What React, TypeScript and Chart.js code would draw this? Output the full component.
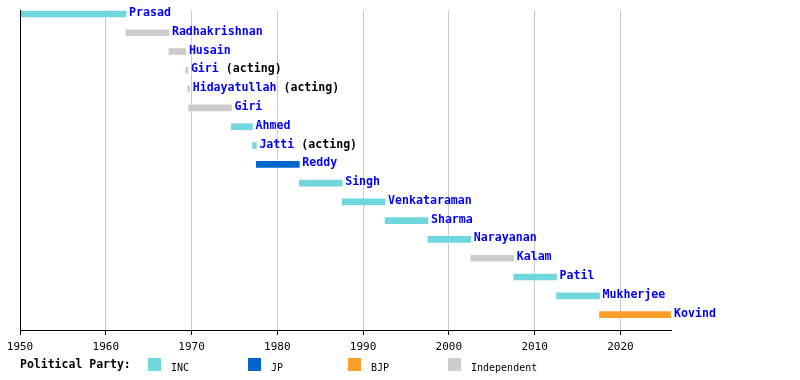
import React, { useEffect, useRef } from "react";
import { Chart, registerables } from "chart.js";

Chart.register(...registerables);

const names = [
  "Prasad", "Radhakrishnan", "Husain", "Giri", "Hidayatullah", "Giri", "Ahmed",
  "Jatti", "Reddy", "Singh", "Venkataraman", "Sharma", "Narayanan", "Kalam",
  "Patil", "Mukherjee", "Kovind",
];
const acting = [false, false, false, true, true, false, false, true, false, false, false, false, false, false, false, false, false];
const parties = ["INC", "Independent", "Independent", "Independent", "Independent", "Independent", "INC", "INC", "JP", "INC", "INC", "INC", "INC", "Independent", "INC", "INC", "BJP"];
const starts = [1950.07, 1962.36, 1967.36, 1969.34, 1969.55, 1969.65, 1974.65, 1977.11, 1977.56, 1982.56, 1987.56, 1992.56, 1997.56, 2002.56, 2007.56, 2012.56, 2017.56];
const ends = [1962.36, 1967.36, 1969.34, 1969.55, 1969.65, 1974.65, 1977.11, 1977.56, 1982.56, 1987.56, 1992.56, 1997.56, 2002.56, 2007.56, 2012.56, 2017.56, 2025.9];

const tickYears = [1950, 1960, 1970, 1980, 1990, 2000, 2010, 2020];
const legendParties = ["INC", "JP", "BJP", "Independent"];
const partyColors: Record<string, string> = {
  INC: "#70d8dc",
  JP: "#0066cc",
  BJP: "#ff9f2a",
  Independent: "#cccccc",
};

const xMin = 1950;
const xMax = 2025.9;

export default function App() {
  const ref = useRef<HTMLCanvasElement | null>(null);

  useEffect(() => {
    if (!ref.current) return;

    const labelPlugin = {
      id: "timelineLabels",
      afterDraw(chart: any) {
        const ctx = chart.ctx;
        const xs = chart.scales.x;
        const ys = chart.scales.y;
        const area = chart.chartArea;
        ctx.save();
        // left axis line
        ctx.strokeStyle = "#000";
        ctx.lineWidth = 1;
        ctx.beginPath();
        ctx.moveTo(Math.round(area.left) + 0.5, area.top);
        ctx.lineTo(Math.round(area.left) + 0.5, area.bottom);
        ctx.stroke();

        // bar labels
        ctx.font = "bold 11.6px 'DejaVu Sans Mono'";
        ctx.textBaseline = "alphabetic";
        ctx.textAlign = "left";
        names.forEach((n, i) => {
          const sPx = xs.getPixelForValue(starts[i]);
          let ePx = xs.getPixelForValue(ends[i]);
          if (ePx - sPx < 2) ePx = sPx + 2;
          const x = ePx + 3;
          const y = ys.getPixelForValue(i) + 2;
          ctx.fillStyle = "#0000ff";
          ctx.fillText(n, x, y);
          if (acting[i]) {
            const w = ctx.measureText(n).width;
            ctx.fillStyle = "#000";
            ctx.fillText(" (acting)", x + w, y);
          }
        });

        // legend
        ctx.fillStyle = "#000";
        ctx.font = "bold 11.5px 'DejaVu Sans Mono'";
        ctx.fillText("Political Party:", 20, 368);
        ctx.font = "10px 'DejaVu Sans Mono'";
        legendParties.forEach((p, k) => {
          const lx = 148 + k * 100;
          ctx.fillStyle = partyColors[p];
          ctx.fillRect(lx, 358, 13, 13);
          ctx.fillStyle = "#000";
          ctx.fillText(p, lx + 23, 371);
        });
        ctx.restore();
      },
    };

    const chart = new Chart(ref.current, {
      type: "bar",
      data: {
        datasets: [
          {
            data: names.map((_, i) => ({ x: [starts[i], ends[i]], y: i })) as any,
            backgroundColor: parties.map((p) => partyColors[p]),
            borderWidth: 0,
            barThickness: 6,
            minBarLength: 2,
          },
        ],
      },
      options: {
        indexAxis: "y",
        responsive: false,
        animation: false,
        layout: { padding: { left: 20, right: 129, top: 10, bottom: 0 } },
        plugins: {
          legend: { display: false },
          tooltip: { enabled: false },
          title: { display: false },
        },
        scales: {
          x: {
            type: "linear",
            position: "bottom",
            min: xMin,
            max: xMax,
            ticks: {
              color: "#000",
              font: { family: "'DejaVu Sans Mono'", size: 11 },
              padding: 6,
              maxRotation: 0,
              autoSkip: false,
              callback: (v: any) => String(v),
            },
            afterBuildTicks: (scale: any) => {
              scale.ticks = tickYears.map((v) => ({ value: v }));
            },
            afterFit: (scale: any) => {
              scale.height = 50;
            },
            grid: {
              color: "#cccccc",
              lineWidth: 1,
              drawTicks: true,
              tickLength: 5,
              tickColor: "#000",
            },
            border: { color: "#000", width: 1 },
          },
          y: {
            type: "linear",
            display: false,
            reverse: true,
            offset: false,
            grace: 0,
            min: -0.213,
            max: 16.82,
          },
        },
      },
      plugins: [labelPlugin],
    });

    return () => chart.destroy();
  }, []);

  return (
    <div style={{ position: "absolute", left: 0, top: 0, width: 800, height: 380, background: "#fff" }}>
      <canvas ref={ref} width={800} height={380} style={{ width: 800, height: 380 }} />
    </div>
  );
}
